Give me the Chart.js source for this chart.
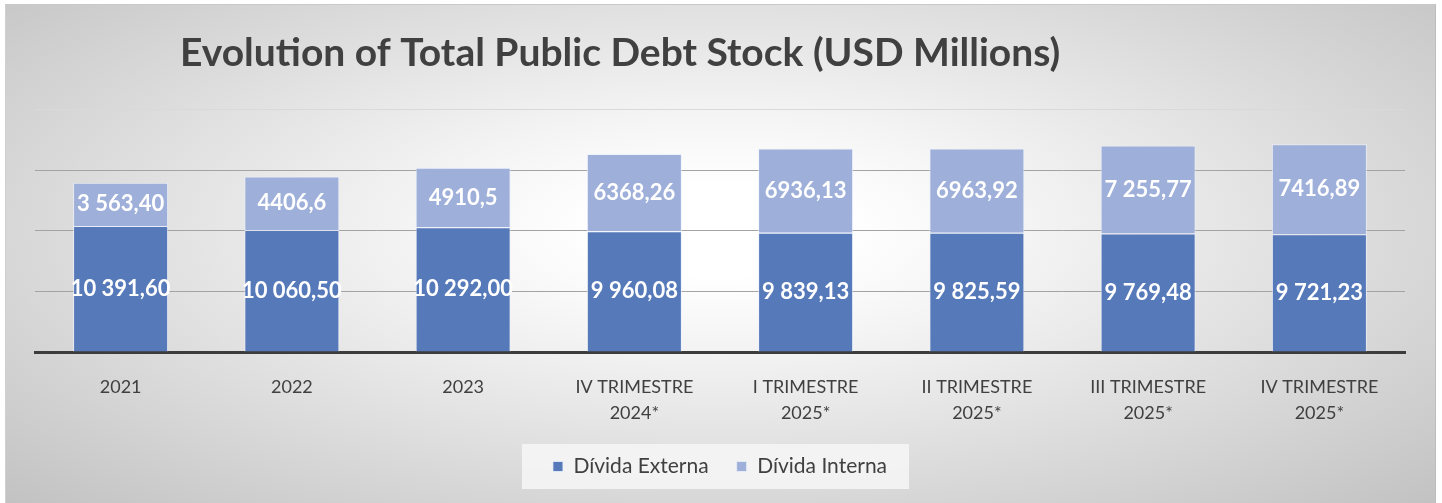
<!DOCTYPE html>
<html>
<head>
<meta charset="utf-8">
<script src="https://cdn.jsdelivr.net/npm/chart.js@4/dist/chart.umd.min.js"></script>
<style>
  html, body { margin: 0; padding: 0; background: #ffffff; }
  #frame {
    position: absolute; left: 5px; top: 4px; width: 1429px; height: 499px;
    border-top: 1px solid #c9c9c9; border-left: 1px solid #d0d0d0; border-right: 1px solid #bdbdbd;
    background: radial-gradient(ellipse farthest-corner at 50% 45%, #ffffff 12%, #f4f4f4 30%, #c2c2c2 100%);
  }
  #wrap { position: absolute; left: 0; top: 0; width: 1428px; height: 498px; }
</style>
</head>
<body>
<div id="frame"><div id="wrap"><canvas id="c"></canvas></div></div>
<script>
const titleText = 'Evolution of Total Public Debt Stock (USD Millions)';
const categories = [
  ['2021'], ['2022'], ['2023'],
  ['IV TRIMESTRE', '2024*'], ['I TRIMESTRE', '2025*'], ['II TRIMESTRE', '2025*'],
  ['III TRIMESTRE', '2025*'], ['IV TRIMESTRE', '2025*']
];
const seriesNames = ['Dívida Externa', 'Dívida Interna'];
const externa = [10391.60, 10060.50, 10292.00, 9960.08, 9839.13, 9825.59, 9769.48, 9721.23];
const interna = [3563.40, 4406.6, 4910.5, 6368.26, 6936.13, 6963.92, 7255.77, 7416.89];
const externaLabels = ['10 391,60', '10 060,50', '10 292,00', '9 960,08', '9 839,13', '9 825,59', '9 769,48', '9 721,23'];
const internaLabels = ['3 563,40', '4406,6', '4910,5', '6368,26', '6936,13', '6963,92', '7 255,77', '7416,89'];
const yTicks = [0, 5000, 10000, 15000, 20000];

const TEXT = '#404040';
const FONT = 'Lato, "Open Sans", sans-serif';

const valueLabels = {
  id: 'valueLabels',
  afterDatasetsDraw(chart) {
    const ctx = chart.ctx;
    ctx.save();
    ctx.fillStyle = '#ffffff';
    ctx.font = 'bold 22px ' + FONT;
    ctx.textAlign = 'center';
    ctx.textBaseline = 'middle';
    const sets = [externaLabels, internaLabels];
    chart.data.datasets.forEach((ds, di) => {
      const meta = chart.getDatasetMeta(di);
      meta.data.forEach((el, i) => {
        ctx.fillText(sets[di][i], el.x, (el.y + el.base) / 2);
      });
    });
    ctx.restore();
  }
};

const titleAndLegendBox = {
  id: 'titleAndLegendBox',
  beforeDraw(chart) {
    const ctx = chart.ctx;
    ctx.save();
    ctx.fillStyle = TEXT;
    ctx.font = 'bold 39px ' + FONT;
    ctx.textAlign = 'left';
    ctx.textBaseline = 'middle';
    ctx.fillText(titleText, 174, 48);
    const lg = chart.legend;
    if (lg && lg.legendHitBoxes && lg.legendHitBoxes.length) {
      const hb = lg.legendHitBoxes;
      const first = hb[0], last = hb[hb.length - 1];
      const cy = first.top + first.height / 2;
      const l = first.left - 31, r = last.left + last.width + 22;
      ctx.fillStyle = 'rgba(243,243,243,0.95)';
      ctx.fillRect(l, cy - 22.5, r - l, 45);
    }
    ctx.restore();
  }
};

new Chart(document.getElementById('c'), {
  type: 'bar',
  data: {
    labels: categories,
    datasets: [
      { label: seriesNames[0], data: externa, backgroundColor: '#5679b9',
        borderColor: 'rgba(235,240,250,0.8)', borderWidth: 1, borderSkipped: 'start' },
      { label: seriesNames[1], data: interna, backgroundColor: '#9eafd9',
        borderColor: 'rgba(235,240,250,0.8)', borderWidth: 1, borderSkipped: 'start' }
    ]
  },
  options: {
    responsive: true,
    maintainAspectRatio: false,
    animation: false,
    devicePixelRatio: 1,
    layout: { padding: { left: 29, right: 29, top: 104.5, bottom: 16 } },
    datasets: { bar: { categoryPercentage: 1.0, barPercentage: 0.555 } },
    scales: {
      x: {
        stacked: true,
        grid: { display: false, drawTicks: false },
        border: { display: true, color: '#3c3c3c', width: 3 },
        ticks: {
          color: TEXT, font: { family: FONT, size: 18, lineHeight: 1.45 },
          padding: 22, maxRotation: 0, autoSkip: false
        },
        afterFit(scale) { scale.height = 76; }
      },
      y: {
        stacked: true, min: 0, max: 20000,
        afterBuildTicks(scale) { scale.ticks = yTicks.map(v => ({ value: v })); },
        ticks: { display: false },
        border: { display: false },
        grid: {
          drawTicks: false, lineWidth: 1,
          color: (c) => c.tick && c.tick.value === 0 ? 'rgba(0,0,0,0)' : (c.tick && c.tick.value === 20000 ? '#d9d9d9' : '#a3a3a3')
        }
      }
    },
    plugins: {
      title: { display: false },
      tooltip: { enabled: false },
      legend: {
        position: 'bottom',
        labels: { color: TEXT, font: { family: FONT, size: 21 }, boxWidth: 10, boxHeight: 10, padding: 28 }
      }
    }
  },
  plugins: [titleAndLegendBox, valueLabels]
});
</script>
</body>
</html>
